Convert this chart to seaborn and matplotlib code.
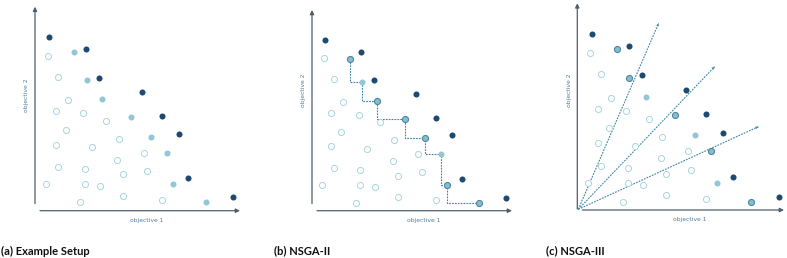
"""
plot.py — schematic of the three selection setups (example, NSGA-II, NSGA-III).

Point positions are read off the reference figure; each panel uses local
units of roughly one pixel, measured from the corner of its two axes.
"""

import matplotlib

matplotlib.use("Agg")
import matplotlib.pyplot as plt
import pandas as pd
import seaborn as sns

FIG_W, FIG_H, DPI = 787, 258, 100

NAVY = "#1c4a72"
LIGHT = "#93c7d7"
MEDIUM = "#8bbccd"
MEDIUM_EDGE = "#4b86a3"
OPEN_EDGE = "#a9d6de"
AXIS = "#4d5f6d"
LABEL = "#4f7c9c"
DASH = "#3f86a6"

PANEL_TITLES = ["(a) Example Setup", "(b) NSGA-II", "(c) NSGA-III"]

# --- panel (a) ---------------------------------------------------------------
A_FRONT = [(14.3, 173.3), (51, 161.3), (64, 132.7), (106.7, 118.3), (126.7, 94.7),
           (143.7, 76.7), (152.7, 32.7), (197.7, 13.3)]
A_SECOND = [(39, 158.3), (51.7, 130.7), (67.3, 112), (96, 93.3), (116, 74),
            (131.7, 58), (138, 26.3), (171, 8.3)]
A_REST = [(12.7, 155), (23, 133.7), (32.7, 110.7), (20.7, 100), (48.3, 98), (70.7, 90),
          (31, 80.7), (20.7, 65.7), (56.7, 63.7), (83.7, 71.7), (108.7, 58), (82.3, 51),
          (23, 44), (49.7, 41.7), (87.7, 36.3), (112, 40), (11, 26.7), (49.7, 26.7),
          (64.7, 24.7), (87.7, 14.7), (126.7, 11), (45.3, 8.3)]

# --- panel (b) ---------------------------------------------------------------
B_FRONT = [(13.3, 170.7), (49.3, 159), (62.3, 130.3), (104.3, 116.3), (123.7, 93),
           (140.3, 75.3), (149.7, 31.7), (194.3, 13)]
B_STAIRS = [(37.7, 152), (49.7, 128.7), (65.3, 110), (93.3, 92), (113.3, 72.7),
            (129, 56.7), (135.3, 26), (167.3, 8)]
B_CHOSEN = [True, False, True, True, True, False, True, True]
B_REST = [(11.7, 152.3), (21.7, 131.7), (31.3, 108.7), (19.3, 98), (46.7, 96), (68.3, 88.3),
          (29.3, 78.7), (19.3, 64.7), (54.7, 62), (81.7, 70.3), (106.3, 56.7), (80.7, 49.7),
          (21.7, 43), (47.7, 40.7), (85.7, 35), (109.7, 38.7), (10, 25.7), (47.7, 25.7),
          (62.7, 23.7), (85.7, 14), (123.7, 10.3), (43.7, 8)]

# --- panel (c) ---------------------------------------------------------------
C_FRONT = [(14.3, 176), (51.7, 164), (64.7, 134.7), (108.3, 120), (128.3, 96),
           (145.7, 77.3), (155.3, 33), (201.3, 13.3)]
C_CHOSEN = [(39.7, 160.7), (52, 132.3), (97.3, 94.7), (133.7, 58.7), (173.3, 8)]
C_SECOND = [(68.3, 113.3), (118, 74.7), (140, 26.7)]
C_REST = [(12.7, 157.3), (23.3, 136), (33.3, 112), (21, 101.3), (49, 99.3), (71.7, 91.3),
          (31.3, 81.7), (21, 66.7), (57.3, 64.3), (85, 72.7), (110.3, 59), (83.7, 51.7),
          (23.3, 44.3), (50.3, 42), (89, 36.3), (114, 40.3), (10.7, 26.7), (50.3, 26.7),
          (65.7, 24.7), (89, 14.7), (128.7, 11), (45.7, 8.3)]
C_RAY_START = (1, 0.7)
C_RAY_TIPS = [(81.3, 186.7), (137.3, 143.3), (181, 83.3)]

# axis origin of each panel in figure pixels (x from left, y from top)
ORIGINS = [(35, 210.7), (312, 210.7), (577.3, 210)]
AXIS_SPANS = [  # (x start, x tip, y start, y tip) in local units
    (5, 205, 7, 204),
    (5, 200, 7, 200.7),
    (5, 206.7, 1, 206.7),
]
X_LABEL_POS = [(111.7, -9.5), (111.7, -9.5), (112.3, -10)]
Y_LABEL_POS = [(-8.3, 115.7), (-8.3, 120.7), (-8.3, 120)]

PAD_L, PAD_B, SPAN_W, SPAN_H = 15, 20, 230, 228
MARKER_S = 19
NARROW = ["Liberation Sans Narrow", "DejaVu Sans"]
DASH_STYLE = (0, (1.6, 1.0))


def to_frame(points):
    return pd.DataFrame(points, columns=["obj1", "obj2"])


def make_panel_axes(fig, origin):
    ox, oy = origin
    left = (ox - PAD_L) / FIG_W
    bottom = (FIG_H - oy - PAD_B) / FIG_H
    ax = fig.add_axes([left, bottom, SPAN_W / FIG_W, SPAN_H / FIG_H])
    ax.set_xlim(-PAD_L, SPAN_W - PAD_L)
    ax.set_ylim(-PAD_B, SPAN_H - PAD_B)
    ax.set_axis_off()
    return ax


def draw_axes_arrows(ax, span, xlab_pos, ylab_pos):
    x0, x1, y0, y1 = span
    arrow = dict(arrowstyle="-|>", color=AXIS, lw=0.9, mutation_scale=6, shrinkA=0, shrinkB=0)
    ax.annotate("", xy=(x1, 0), xytext=(x0, 0), arrowprops=arrow, annotation_clip=False)
    ax.annotate("", xy=(0, y1), xytext=(0, y0), arrowprops=arrow, annotation_clip=False)
    ax.text(*xlab_pos, "objective 1", color=LABEL, fontsize=4.3, family=NARROW,
            ha="center", va="center", clip_on=False)
    ax.text(*ylab_pos, "objective 2", color=LABEL, fontsize=4.3, family=NARROW,
            ha="center", va="center", rotation=90, clip_on=False)


def scatter(ax, points, color, edge=None, lw=0.0, zorder=3):
    sns.scatterplot(data=to_frame(points), x="obj1", y="obj2", ax=ax, s=MARKER_S,
                    color=color, edgecolor=edge if edge else color, linewidth=lw,
                    legend=False, zorder=zorder)


def draw_population(ax, rest, front):
    scatter(ax, rest, "white", edge=OPEN_EDGE, lw=0.7)
    scatter(ax, front, NAVY)


def draw_panel_a(ax):
    draw_population(ax, A_REST, A_FRONT)
    scatter(ax, A_SECOND, LIGHT)


def draw_panel_b(ax):
    draw_population(ax, B_REST, B_FRONT)
    stairs = to_frame(B_STAIRS)
    sns.lineplot(data=stairs, x="obj1", y="obj2", ax=ax, sort=False, estimator=None,
                 drawstyle="steps-pre", color=DASH, lw=0.8, linestyle=DASH_STYLE,
                 zorder=2)
    chosen = [p for p, c in zip(B_STAIRS, B_CHOSEN) if c]
    plain = [p for p, c in zip(B_STAIRS, B_CHOSEN) if not c]
    scatter(ax, chosen, MEDIUM, edge=MEDIUM_EDGE, lw=0.8)
    scatter(ax, plain, LIGHT)


def draw_panel_c(ax):
    for tip in C_RAY_TIPS:
        ray = to_frame([C_RAY_START, tip])
        sns.lineplot(data=ray, x="obj1", y="obj2", ax=ax, sort=False, estimator=None,
                     color=DASH, lw=0.8, linestyle=DASH_STYLE, zorder=1)
        ax.annotate("", xy=tip, xytext=C_RAY_START, zorder=1,
                    arrowprops=dict(arrowstyle="-|>", color=DASH, lw=0.0,
                                    mutation_scale=5, shrinkA=0, shrinkB=0))
    draw_population(ax, C_REST, C_FRONT)
    scatter(ax, C_CHOSEN, MEDIUM, edge=MEDIUM_EDGE, lw=0.8)
    scatter(ax, C_SECOND, LIGHT)


def main():
    sns.set_style("white")
    plt.rcParams["font.family"] = ["Lato", "DejaVu Sans"]

    fig = plt.figure(figsize=(FIG_W / DPI, FIG_H / DPI), dpi=DPI)
    drawers = [draw_panel_a, draw_panel_b, draw_panel_c]
    for i, draw in enumerate(drawers):
        ax = make_panel_axes(fig, ORIGINS[i])
        draw_axes_arrows(ax, AXIS_SPANS[i], X_LABEL_POS[i], Y_LABEL_POS[i])
        draw(ax)

    caption_x = [1, 274, 546]
    for x, title in zip(caption_x, PANEL_TITLES):
        fig.text(x / FIG_W, 1 - 251 / FIG_H, title, fontsize=8, fontweight="bold",
                 color="#111111", ha="left", va="center")

    fig.savefig("out.png", dpi=DPI)
    plt.close(fig)


if __name__ == "__main__":
    main()
